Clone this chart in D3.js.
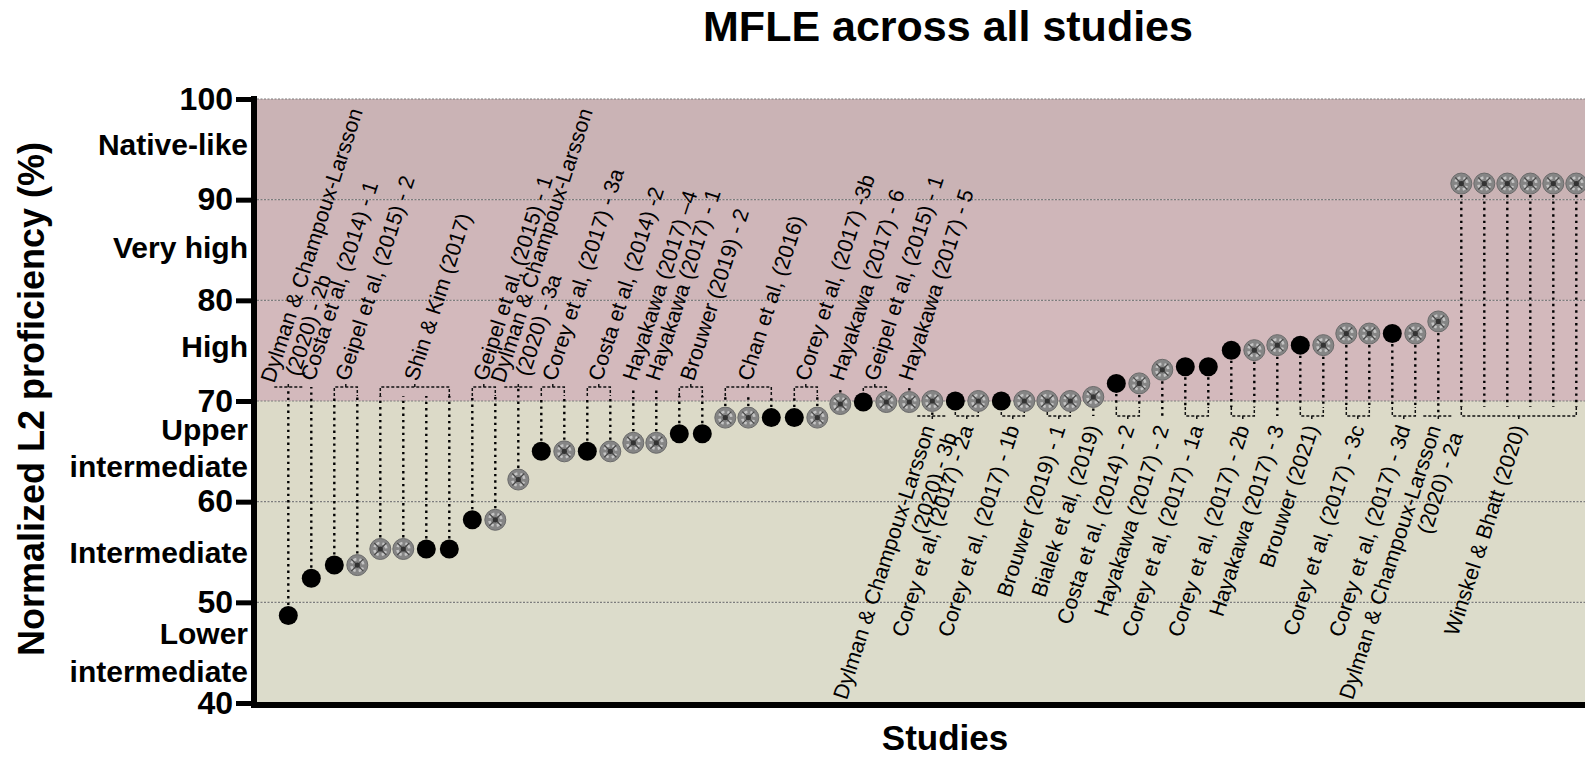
<!DOCTYPE html>
<html><head><meta charset="utf-8">
<script src="https://cdn.jsdelivr.net/npm/d3@7"></script>
<style>
body{margin:0;background:#fff}
svg{display:block}
text{font-family:"Liberation Sans",Arial,Helvetica,sans-serif;fill:#000}
</style>
</head><body>
<svg id="c" width="1585" height="757"></svg>
<script>
// ---------------- DATA ----------------
const values = [48.7,52.4,53.7,53.7,55.3,55.3,55.3,55.3,58.2,58.2,62.2,65.0,65.0,65.0,65.0,65.85,65.85,66.75,66.75,68.35,68.35,68.35,68.35,68.35,69.7,69.9,69.9,69.9,70.0,70.0,70.0,70.0,70.0,70.0,70.0,70.4,71.75,71.75,73.1,73.4,73.4,75.05,75.05,75.55,75.55,75.55,76.7,76.7,76.7,76.7,77.9,91.6,91.6,91.6,91.6,91.6,91.6];
// 1 = filled black symbol, 0 = patterned grey symbol
const filled = [1,1,1,0,0,0,1,1,1,0, 0,1,0,1,0,0,0,1,1,0, 0,1,1,0,0,1,0,0,0,1, 0,1,0,0,0,0,1,0,0,1, 1,1,0,0,1,0,0,0,1,0, 0,0,0,0,0,0,0];

const topGroups = [[0,0],[1,1],[2,3],[4,7],[8,9],[10,10],[11,12],[13,14],[15,15],[16,16],[17,18],[19,21],[22,23],[24,24],[25,26],[27,27]];
const topTexts = [
  ["Dylman & Champoux-Larsson","(2020) - 2b"],
  ["Costa et al, (2014) - 1"],
  ["Geipel et al, (2015) - 2"],
  ["Shin & Kim (2017)"],
  ["Geipel et al, (2015) - 1"],
  ["Dylman & Champoux-Larsson","(2020) - 3a"],
  ["Corey et al, (2017) - 3a"],
  ["Costa et al, (2014) -2"],
  ["Hayakawa (2017) –4"],
  ["Hayakawa (2017) - 1"],
  ["Brouwer (2019) - 2"],
  ["Chan et al, (2016)"],
  ["Corey et al, (2017) -3b"],
  ["Hayakawa (2017) - 6"],
  ["Geipel et al, (2015) - 1"],
  ["Hayakawa (2017) - 5"]
];
const bottomGroups = [[28,28],[29,30],[31,32],[33,34],[35,35],[36,37],[38,38],[39,40],[41,42],[43,43],[44,45],[46,47],[48,49],[50,50],[51,56]];
const bottomTexts = [
  ["Dylman & Champoux-Larsson","(2020) - 3b"],
  ["Corey et al, (2017) - 2a"],
  ["Corey et al, (2017) - 1b"],
  ["Brouwer (2019) - 1"],
  ["Bialek et al, (2019)"],
  ["Costa et al, (2014) - 2"],
  ["Hayakawa (2017) - 2"],
  ["Corey et al, (2017) - 1a"],
  ["Corey et al, (2017) - 2b"],
  ["Hayakawa (2017) - 3"],
  ["Brouwer (2021)"],
  ["Corey et al, (2017) - 3c"],
  ["Corey et al, (2017) - 3d"],
  ["Dylman & Champoux-Larsson","(2020) - 2a"],
  ["Winskel & Bhatt (2020)"]
];

const yTicks = [40,50,60,70,80,90,100];
const gridValues = [50,60,70,80,90,100];
const bandEdges = [40,50,60,70,80,90,100];
const levelNames = [["Lower","intermediate"],["Intermediate"],["Upper","intermediate"],["High"],["Very high"],["Native-like"]];
const levelCenters = [[46.9,43.2],[55.0],[67.2,63.5],[75.4],[85.24],[95.5]];

const titleText = "MFLE across all studies";
const xTitle = "Studies";
const yTitle = "Normalized L2 proficiency (%)";

// ---------------- DRAW ----------------
const W = 1585, H = 757;
const svg = d3.select("#c");
const x = d3.scaleLinear().domain([0, values.length - 1]).range([288.3, 1576.3]);
const y = d3.scaleLinear().domain([40, 100]).range([703, 99]);
const plotL = 257;
const bandColors = ["#dcdccb","#dcdbc9","#dcdac8","#d3b9bc","#cfb6b9","#cab3b5"];
const ANG = -72;

// bands
const bands = d3.pairs(bandEdges);
svg.append("g").selectAll("rect").data(bands).join("rect")
  .attr("x", plotL).attr("width", W - plotL)
  .attr("y", d => y(d[1])).attr("height", d => y(d[0]) - y(d[1]))
  .attr("fill", (d, i) => bandColors[i]);

// grid
svg.append("g").selectAll("line").data(gridValues).join("line")
  .attr("x1", plotL).attr("x2", W)
  .attr("y1", d => y(d)).attr("y2", d => y(d))
  .attr("stroke", "#7c7c7c").attr("stroke-width", 1.2).attr("stroke-dasharray", "2,1.5");

const rOf = i => filled[i] ? 9.5 : 10.5;
const conn = svg.append("g");
const labels = svg.append("g").style("font-size", "21.5px");
const dotStyle = s => s.attr("fill", "none").attr("stroke", "#000").attr("stroke-width", 2.4).attr("stroke-dasharray", "2.4,4");
const dashStyle = s => s.attr("fill", "none").attr("stroke", "#111").attr("stroke-width", 1.5).attr("stroke-dasharray", "3,2");

// top labels
const byTop = y(70) - 14;
topGroups.forEach((g, k) => {
  const [a, b] = g;
  const cx = (x(a) + x(b)) / 2;
  const lines = topTexts[k];
  const multi = b > a;
  for (let i = a; i <= b; i++) {
    const y0 = y(values[i]) - rOf(i) - 1;
    const y1 = multi ? byTop + 9 : byTop;
    if (y0 > y1) conn.append("line").attr("x1", x(i)).attr("x2", x(i)).attr("y1", y0).attr("y2", y1).call(dotStyle);
  }
  if (multi) {
    conn.append("path").attr("d", `M${x(a)},${byTop + 9}V${byTop}H${x(b)}V${byTop + 9}M${cx},${byTop}V${byTop - 5}`).call(dashStyle);
  } else if (lines.length > 1) {
    conn.append("path").attr("d", `M${cx - 14},${byTop}H${cx + 14}M${cx},${byTop}V${byTop - 5}`).call(dashStyle);
  }
  if (lines.length === 1) {
    labels.append("text").attr("transform", `translate(${cx + 3},${byTop - 5}) rotate(${ANG})`).text(lines[0]);
  } else {
    const t = labels.append("text").attr("transform", `translate(${cx - 14},${byTop - 3}) rotate(${ANG})`);
    t.append("tspan").attr("x", 0).attr("y", 0).text(lines[0]);
    t.append("tspan").attr("x", 14).attr("y", 21.5).text(lines[1]);
  }
});

// bottom labels
const byBot = y(70) + 15;
bottomGroups.forEach((g, k) => {
  const [a, b] = g;
  const cx = (x(a) + x(b)) / 2;
  const lines = bottomTexts[k];
  const multi = b > a;
  for (let i = a; i <= b; i++) {
    const y0 = y(values[i]) + rOf(i) + 1;
    const y1 = multi ? byBot - 9 : byBot;
    if (y1 > y0) conn.append("line").attr("x1", x(i)).attr("x2", x(i)).attr("y1", y0).attr("y2", y1).call(dotStyle);
  }
  if (multi) {
    conn.append("path").attr("d", `M${x(a)},${byBot - 9}V${byBot}H${x(b)}V${byBot - 9}M${cx},${byBot}V${byBot + 5}`).call(dashStyle);
  } else if (lines.length > 1) {
    conn.append("path").attr("d", `M${cx - 15},${byBot}H${cx + 15}M${cx},${byBot}V${byBot + 5}`).call(dashStyle);
  }
  if (lines.length === 1) {
    labels.append("text").attr("text-anchor", "end").attr("transform", `translate(${cx + 7},${byBot + 12}) rotate(${ANG})`).text(lines[0]);
  } else {
    const t = labels.append("text").attr("text-anchor", "end").attr("transform", `translate(${cx + 3},${byBot + 12}) rotate(${ANG})`);
    t.append("tspan").attr("x", 0).attr("y", 0).text(lines[0]);
    t.append("tspan").attr("x", 0).attr("y", 23).text(lines[1]);
  }
});

// points
const pts = svg.append("g").selectAll("g").data(values).join("g")
  .attr("transform", (d, i) => `translate(${x(i)},${y(d)})`);
pts.filter((d, i) => filled[i]).append("circle").attr("r", 9.5).attr("fill", "#000");
const grey = pts.filter((d, i) => !filled[i]);
grey.append("circle").attr("r", 10.5).attr("fill", "#858585").attr("stroke", "#6a6a6a").attr("stroke-width", 1);
grey.append("circle").attr("r", 6).attr("fill", "none").attr("stroke", "#c4c4c4").attr("stroke-width", 2.6)
  .attr("stroke-dasharray", "6.6,2.82").attr("stroke-dashoffset", 3.3).attr("transform", "rotate(45)");
grey.append("path").attr("d", "M-6,-6L6,6M-6,6L6,-6").attr("stroke", "#4a4a4a").attr("stroke-width", 1.3);
grey.append("circle").attr("r", 2.6).attr("fill", "#333");

// axes
const yAxis = d3.axisLeft(y).tickValues(yTicks).tickSize(18).tickSizeOuter(0).tickPadding(3);
const ya = svg.append("g").attr("transform", "translate(254,0)").call(yAxis);
ya.select(".domain").attr("stroke", "#000").attr("stroke-width", 6).attr("d", `M0,${y(100) - 3}V${y(40) + 5}`);
ya.selectAll(".tick line").attr("stroke", "#000").attr("stroke-width", 5);
ya.selectAll(".tick text").style("font-size", "32px").style("font-weight", "bold").attr("font-family", null);
svg.append("line").attr("x1", 251).attr("x2", W).attr("y1", y(40) + 2).attr("y2", y(40) + 2)
  .attr("stroke", "#000").attr("stroke-width", 6);

// level names
const lv = svg.append("g").style("font-size", "30px").style("font-weight", "bold").attr("text-anchor", "end");
levelNames.forEach((ls, k) => {
  ls.forEach((s, j) => {
    lv.append("text").attr("x", 248).attr("y", y(levelCenters[k][j])).attr("dy", "0.36em").text(s);
  });
});

// titles
svg.append("text").attr("x", 948).attr("y", 41).attr("text-anchor", "middle")
  .style("font-size", "43px").style("font-weight", "bold").text(titleText);
svg.append("text").attr("x", 945).attr("y", 750).attr("text-anchor", "middle")
  .style("font-size", "35px").style("font-weight", "bold").text(xTitle);
svg.append("text").attr("transform", `translate(44,${(y(100) + y(40)) / 2 - 2}) rotate(-90)`).attr("text-anchor", "middle")
  .style("font-size", "36px").style("font-weight", "bold").text(yTitle);
</script>
</body></html>
